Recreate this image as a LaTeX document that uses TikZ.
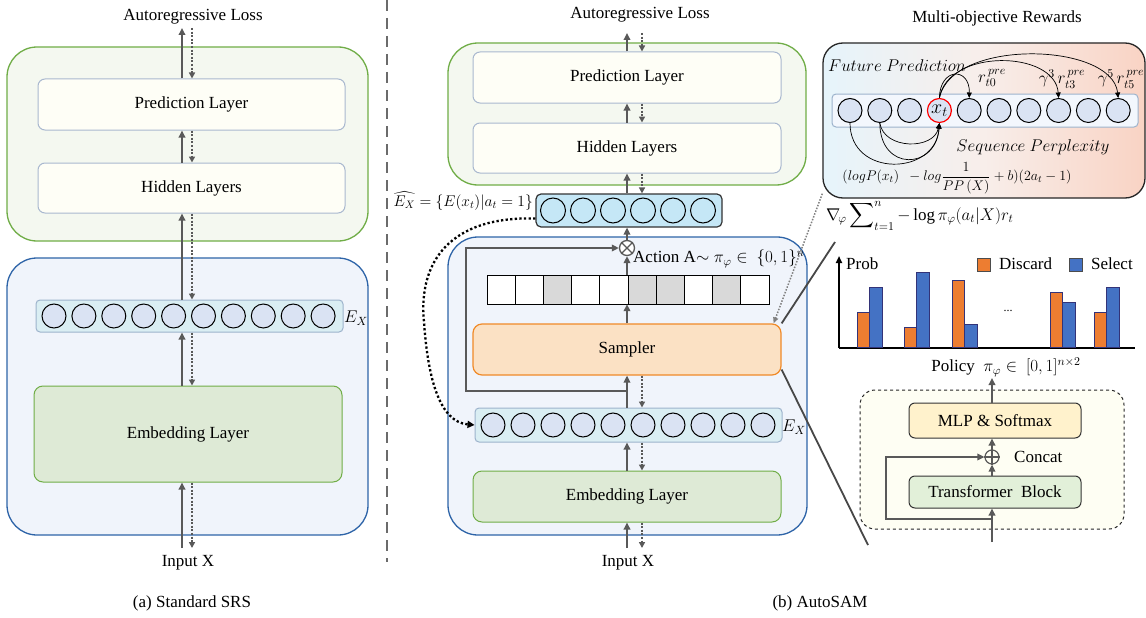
\RequirePackage{fix-cm}
\documentclass[tikz,border=0pt]{standalone}
\usepackage{amsmath}
\usepackage{fontspec}
\setmainfont{Liberation Serif}
\usetikzlibrary{arrows.meta,calc}
\definecolor{gOut}{HTML}{70AD47}
\definecolor{gFill}{HTML}{F4F8F0}
\definecolor{bOut}{HTML}{2E64A8}
\definecolor{bFill}{HTML}{F0F4FB}
\definecolor{layerB}{HTML}{A9B8CF}
\definecolor{layerF}{HTML}{FEFEF6}
\definecolor{embF}{HTML}{DEEAD6}
\definecolor{barF}{HTML}{DAEEF3}
\definecolor{barB}{HTML}{9DB3CC}
\definecolor{circF}{HTML}{DAE3F3}
\definecolor{hatF}{HTML}{C5E7F6}
\definecolor{sampB}{HTML}{F08A28}
\definecolor{sampF}{HTML}{FBE1C4}
\definecolor{arrC}{HTML}{595959}
\definecolor{orgC}{HTML}{ED7D31}
\definecolor{bluC}{HTML}{4472C4}
\definecolor{mlpF}{HTML}{FFF2CC}
\definecolor{trF}{HTML}{E2F0D9}
\definecolor{dashF}{HTML}{FEFEF3}
\definecolor{rewL}{HTML}{E6F4FB}
\definecolor{rewM}{HTML}{F8EEEA}
\definecolor{rewR}{HTML}{F9D3C4}
\definecolor{cellG}{HTML}{D9D9D9}
\definecolor{sepC}{HTML}{6B6B6B}
\tikzset{
  txt/.style={font=\fontsize{17}{20}\selectfont, inner sep=0pt},
  outerG/.style={draw=gOut, fill=gFill, line width=1.3pt, rounded corners=30pt},
  outerB/.style={draw=bOut, fill=bFill, line width=1.3pt, rounded corners=30pt},
  layer/.style={draw=layerB, fill=layerF, line width=1pt, rounded corners=7pt, inner sep=0pt, font=\fontsize{17}{20}\selectfont},
  emb/.style={draw=gOut, fill=embF, line width=1pt, rounded corners=9pt, inner sep=0pt, font=\fontsize{17}{20}\selectfont},
  samp/.style={draw=sampB, fill=sampF, line width=1.2pt, rounded corners=9pt, inner sep=0pt, font=\fontsize{17}{20}\selectfont},
  ebar/.style={draw=barB, fill=barF, line width=1pt, rounded corners=4pt, inner sep=0pt},
  hbar/.style={draw=black!80, fill=hatF, line width=1.2pt, rounded corners=5pt, inner sep=0pt},
  circ/.style={circle, draw=black, fill=circF, line width=1pt, minimum size=24pt, inner sep=0pt},
  cell/.style={draw=black, line width=1pt, minimum width=28.2pt, minimum height=29pt, inner sep=0pt},
  up/.style={draw=arrC, line width=2.2pt, -{Triangle[length=7pt,width=6.5pt]}},
  down/.style={draw=arrC, line width=1.6pt, dash pattern=on 2pt off 1.6pt, -{Triangle[length=6pt,width=6pt]}},
  skip/.style={draw=arrC, line width=2.6pt, -{Triangle[length=7pt,width=6.5pt]}},
  thinarr/.style={draw=black, line width=0.7pt, -{Triangle[length=5.5pt,width=5pt]}},
  mlbl/.style={font=\fontsize{17}{20}\selectfont, inner sep=0pt},
  innerbox/.style={draw=black!80, line width=1pt, rounded corners=6pt, inner sep=0pt, font=\fontsize{17}{20}\selectfont},
}
\begin{document}
\begin{tikzpicture}[x=1pt,y=-1pt]
\useasboundingbox (0,0) rectangle (1146,618);
\fill[white] (0,0) rectangle (1146,618);

% ================= Panel (a) =================
\node[outerG, minimum width=361, minimum height=194] (gA) at (187.5,144) {};
\node[outerB, minimum width=361, minimum height=277] (bA) at (187.5,396.5) {};
\node[layer, minimum width=307, minimum height=51] (predA) at (191.5,104.5) {Prediction Layer};
\node[layer, minimum width=307, minimum height=50] (hidA) at (191.5,188) {Hidden Layers};
\node[ebar, minimum width=307, minimum height=32] (exA) at (189.5,316) {};
\foreach \i in {0,...,9} \node[circ] (ca\i) at ({54+29.9*\i},316) {};
\node[mlbl, anchor=west] (exAl) at (344,318) {$E_X$};
\node[emb, minimum width=308, minimum height=96] (embA) at (188,434) {Embedding Layer};
\node[txt] (lossA) at (193,17) {Autoregressive Loss};
\node[txt] (inA) at (188,563) {Input X};
\node[txt] (capA) at (192,603) {(a) Standard SRS};
\coordinate (sA) at (182,0); \coordinate (dA) at (192,0);
\coordinate (topA) at (0,28); \coordinate (botA) at (0,548);
\draw[up] (predA.north -| sA) -- (topA -| sA);
\draw[down] (topA -| dA) -- (predA.north -| dA);
\draw[up] (hidA.north -| sA) -- (predA.south -| sA);
\draw[down] (predA.south -| dA) -- (hidA.north -| dA);
\draw[up] (exA.north -| sA) -- (hidA.south -| sA);
\draw[down] (hidA.south -| dA) -- (exA.north -| dA);
\draw[up] (embA.north -| sA) -- (exA.south -| sA);
\draw[down] (exA.south -| dA) -- (embA.north -| dA);
\draw[up] (botA -| sA) -- (embA.south -| sA);
\draw[down] (embA.south -| dA) -- (botA -| dA);

% separator
\coordinate (sep1) at (387,0); \coordinate (sep2) at (387,562);
\draw[sepC, line width=2.6pt, dash pattern=on 11pt off 7pt] (sep1) -- (sep2);

% ================= Panel (b) =================
\node[outerG, minimum width=358, minimum height=142] (gB) at (627,114) {};
\node[outerB, minimum width=359, minimum height=298] (bB) at (627.5,386) {};
\node[layer, minimum width=308, minimum height=51] (predB) at (627,77.5) {Prediction Layer};
\node[layer, minimum width=308, minimum height=50] (hidB) at (627,148) {Hidden Layers};
\node[hbar, minimum width=186, minimum height=33] (hatB) at (629,210.5) {};
\foreach \i in {0,...,5} \node[circ, fill=hatF, minimum size=25pt] (ch\i) at ({553+30*\i},210.5) {};
\node[mlbl, anchor=east, font=\fontsize{15.5}{18}\selectfont] (hatL) at (533,201) {$\widehat{E_X}=\{E(x_t)|a_t=1\}$};
\node[circle, draw=arrC, fill=white, line width=1.3pt, minimum size=15pt, inner sep=0pt] (otm) at (627,248) {};
\draw[arrC, line width=1.3pt] (otm.north west) -- (otm.south east) (otm.north east) -- (otm.south west);
\node[txt, anchor=west] (actL) at (633,259) {Action A$\sim\pi_{\varphi}\in\ \{0,1\}^{n}$};
\node[minimum width=282, minimum height=29, inner sep=0pt] (actbar) at (628,289.5) {};
\foreach \i/\f in {0/white,1/white,2/cellG,3/white,4/white,5/cellG,6/cellG,7/white,8/cellG,9/white}
  \node[cell, fill=\f] (act\i) at ({501.1+28.2*\i},289.5) {};
\node[samp, minimum width=308, minimum height=51] (samp) at (627,349.5) {Sampler};
\node[ebar, minimum width=307, minimum height=34] (exB) at (628.5,425) {};
\foreach \i in {0,...,9} \node[circ] (cb\i) at ({493+30*\i},425) {};
\node[mlbl, anchor=west] (exBl) at (782,427) {$E_X$};
\node[emb, minimum width=308, minimum height=51] (embB) at (627,496.5) {Embedding Layer};
\node[txt] (lossB) at (640,15) {Autoregressive Loss};
\node[txt] (inB) at (628,563) {Input X};
\node[txt] (capB) at (820,603) {(b) AutoSAM};
\coordinate (sB) at (627,0); \coordinate (dB) at (642,0);
\coordinate (topB) at (0,33); \coordinate (botB) at (0,548);
\draw[up] (predB.north -| sB) -- (topB -| sB);
\draw[down] (topB -| dB) -- (predB.north -| dB);
\draw[up] (hidB.north -| sB) -- (predB.south -| sB);
\draw[down] (predB.south -| dB) -- (hidB.north -| dB);
\draw[up] (hatB.north -| sB) -- (hidB.south -| sB);
\draw[down] (hidB.south -| dB) -- (hatB.north -| dB);
\draw[up] (otm.north) -- (hatB.south -| sB);
\draw[up] (actbar.north -| sB) -- (otm.south);
\draw[up] (samp.north -| sB) -- (actbar.south -| sB);
\draw[up] (exB.north -| sB) -- (samp.south -| sB);
\draw[down] (samp.south -| dB) -- (exB.north -| dB);
\draw[up] (embB.north -| sB) -- (exB.south -| sB);
\draw[down] (exB.south -| dB) -- (embB.north -| dB);
\draw[up] (botB -| sB) -- (embB.south -| sB);
\draw[down] (embB.south -| dB) -- (botB -| dB);
% skip connection
\coordinate (brB) at (466,391);
\draw[skip] (sB |- brB) -- (brB) -- (brB |- otm) -- (otm.west);
% dotted selection curve
\draw[black, line width=2.3pt, dash pattern=on 2.3pt off 2.3pt, -{Triangle[length=7pt,width=7pt]}]
  ([yshift=-8pt]hatB.west) .. controls (450,216) and (418,262) .. (424,322)
  .. controls (428,380) and (440,422) .. (exB.west);

% ================= Right panel =================
\node[txt] (rewT) at (997,18) {Multi-objective Rewards};
\shade[left color=rewL, right color=rewR, middle color=rewM, rounded corners=20pt] (823,43) rectangle (1145,198);
\node[draw=black!85, line width=1.3pt, rounded corners=20pt, minimum width=322, minimum height=155, inner sep=0pt] (rew) at (984,120.5) {};
\node[mlbl, anchor=west] (fp) at (828,66) {$Future\ Prediction$};
\node[ebar, fill=barF!90!blue!20, minimum width=306, minimum height=33] (rbar) at (985,110.5) {};
\foreach \i in {0,1,2,4,5,6,7,8,9} \node[circ] (rc\i) at ({850+29.8*\i},110.5) {};
\node[circ, draw=red, line width=1.2pt, font=\fontsize{20}{22}\selectfont] (rc3) at (939.4,110.5) {$x_t$};
\draw[thinarr] (rc3.north) .. controls (940,67) and (970,67) .. (rc4.north);
\draw[thinarr] (rc3.north) .. controls (948,48) and (1055,50) .. (rc7.north);
\draw[thinarr] (rc3.north) .. controls (952,38) and (1112,42) .. (rc9.north);
\draw[thinarr] (rc0.south) .. controls (850,178) and (936,176) .. (rc3.south);
\draw[thinarr] (rc1.south) .. controls (880,172) and (936,170) .. (rc3.south);
\draw[thinarr] (rc1.south) .. controls (884,150) and (934,150) .. (rc3.south);
\node[mlbl] (r0) at (992,78) {$r_{t0}^{\,pre}$};
\node[mlbl] (r3) at (1062,79) {$\gamma^{3}\,r_{t3}^{\,pre}$};
\node[mlbl] (r5) at (1121,79) {$\gamma^{5}\,r_{t5}^{\,pre}$};
\node[mlbl] (sp) at (1033,147) {$Sequence\ Perplexity$};
\node[inner sep=0pt, font=\fontsize{14}{16}\selectfont] (ppf) at (957,178) {$(logP(x_t)\ \ -log\dfrac{1}{PP\,(X)}+b)(2a_t-1)$};
\node[inner sep=0pt, anchor=west, font=\fontsize{17}{20}\selectfont] (grad) at (826,216) {$\displaystyle\nabla_{\!\varphi}\sum\nolimits_{t=1}^{n}-\log\pi_{\varphi}(a_t|X)r_t$};

% chart
\coordinate (org) at (839,348);
\coordinate (yax) at (839,256);
\coordinate (xax) at (1135,348);
\draw[black, line width=2pt, -{Triangle[length=7pt,width=6pt]}] (org) -- (yax);
\draw[black, line width=2pt] (org) -- (xax);
\foreach \xa/\ha/\hb in {857/312/287, 904/327/272, 952/280/324, 1050/292/302, 1094/312/287} {
  \draw[fill=orgC, draw=black!55!blue!60!gray, line width=0.8pt] (\xa,347) rectangle ({\xa+12.5},\ha);
  \draw[fill=bluC, draw=black!55!blue!60!gray, line width=0.8pt] ({\xa+12.5},347) rectangle ({\xa+25},\hb);
}
\node[txt, anchor=west] (prob) at (846,264) {Prob};
\node[draw=black!70, fill=orgC, line width=0.8pt, minimum size=13pt, inner sep=0pt] (lgO) at (984,264.5) {};
\node[txt, anchor=west] (lgOt) at (999,264) {Discard};
\node[draw=black!70, fill=bluC, line width=0.8pt, minimum size=13pt, inner sep=0pt] (lgB) at (1075.5,264.5) {};
\node[txt, anchor=west] (lgBt) at (1091,264) {Select};
\node[txt, font=\fontsize{12}{14}\selectfont] (dots) at (1008,311) {...};
\node[txt] (polL) at (1006,367) {Policy\ \ $\pi_{\varphi}\in\ [0,1]^{n\times 2}$};

% policy network
\node[draw=black!85, dashed, fill=dashF, line width=1pt, rounded corners=15pt, minimum width=264, minimum height=139, inner sep=0pt] (pol) at (992,459.5) {};
\node[innerbox, fill=mlpF, minimum width=172, minimum height=35] (mlp) at (995,420.5) {MLP \& Softmax};
\node[innerbox, fill=trF, minimum width=172, minimum height=32] (trf) at (995,492) {Transformer\ \ Block};
\node[circle, draw=arrC, line width=1.2pt, minimum size=14pt, inner sep=0pt] (opl) at (992,457) {};
\draw[arrC, line width=1.2pt] (opl.north) -- (opl.south) (opl.west) -- (opl.east);
\node[txt, anchor=west] (cc) at (1014,457) {Concat};
\coordinate (sP) at (992,0);
\coordinate (polTop) at (992,378);
\coordinate (polBot) at (992,542);
\coordinate (brP) at (886,519);
\draw[up, line width=2pt] (mlp.north -| sP) -- (polTop);
\draw[up, line width=2pt] (opl.north) -- (mlp.south -| sP);
\draw[up, line width=2pt] (trf.north -| sP) -- (opl.south);
\draw[up, line width=2pt] (polBot) -- (trf.south -| sP);
\draw[up, line width=2pt] (sP |- brP) -- (brP) -- (brP |- opl) -- (opl.west);

% links between panels
\coordinate (z1) at (835,242);
\coordinate (z2) at (868,545);
\draw[arrC!80!black, line width=1.8pt] (samp.north east) -- (z1);
\draw[arrC!80!black, line width=1.8pt] ([yshift=-20pt]samp.east) -- (z2);
\draw[gray, line width=1.5pt, dash pattern=on 1.5pt off 1.5pt, -{Triangle[length=6pt,width=5pt]}] ([yshift=5pt]rew.south west) -- ([xshift=-8pt]samp.north east);
\end{tikzpicture}
\end{document}
